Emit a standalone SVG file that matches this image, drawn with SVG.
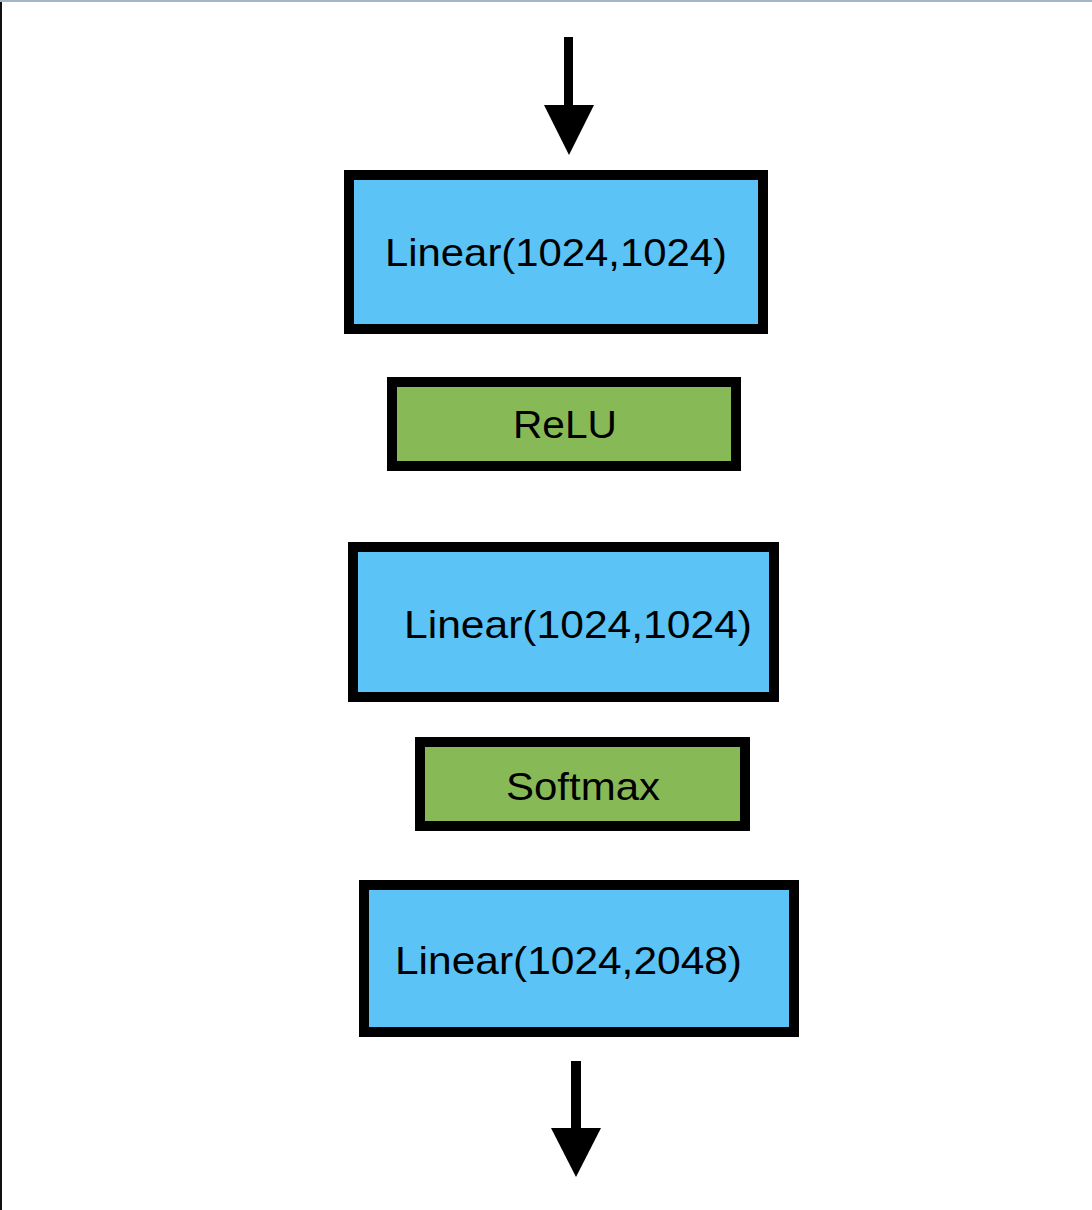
<svg xmlns="http://www.w3.org/2000/svg" width="1092" height="1210" viewBox="0 0 1092 1210">
<style>
.box{stroke:#000;stroke-width:10}
.lin{fill:#5bc3f5}
.act{fill:#88b957}
.lbl{font-family:"Liberation Sans",Arial,sans-serif;font-size:39px;fill:#000}
.arr{fill:#000}
</style>
<rect x="0" y="0" width="1092" height="1210" fill="#fff"/>
<rect x="0" y="0" width="1092" height="2" fill="#a5b5c5"/>
<rect x="0" y="2" width="2" height="1208" fill="#111"/>
<g id="connectors">
<g id="arrow-in">
<rect class="arr" x="564" y="37" width="9" height="70"/>
<polygon class="arr" points="544,105 594,105 569,155"/>
</g>
<g id="arrow-out">
<rect class="arr" x="571" y="1061" width="10" height="69"/>
<polygon class="arr" points="551,1128 601,1128 576,1177"/>
</g>
</g>
<g id="linear1">
<rect class="box lin" x="349" y="175" width="414" height="154"/>
<text class="lbl" x="385" y="266" textLength="342" lengthAdjust="spacingAndGlyphs">Linear(1024,1024)</text>
</g>
<g id="relu">
<rect class="box act" x="392" y="382" width="344" height="84"/>
<text class="lbl" x="513" y="438" textLength="104" lengthAdjust="spacingAndGlyphs">ReLU</text>
</g>
<g id="linear2">
<rect class="box lin" x="353" y="547" width="421" height="150"/>
<text class="lbl" x="404" y="638" textLength="348" lengthAdjust="spacingAndGlyphs">Linear(1024,1024)</text>
</g>
<g id="softmax">
<rect class="box act" x="420" y="742" width="325" height="84"/>
<text class="lbl" x="506" y="800" textLength="154" lengthAdjust="spacingAndGlyphs">Softmax</text>
</g>
<g id="linear3">
<rect class="box lin" x="364" y="885" width="430" height="147"/>
<text class="lbl" x="395" y="974" textLength="347" lengthAdjust="spacingAndGlyphs">Linear(1024,2048)</text>
</g>
</svg>
